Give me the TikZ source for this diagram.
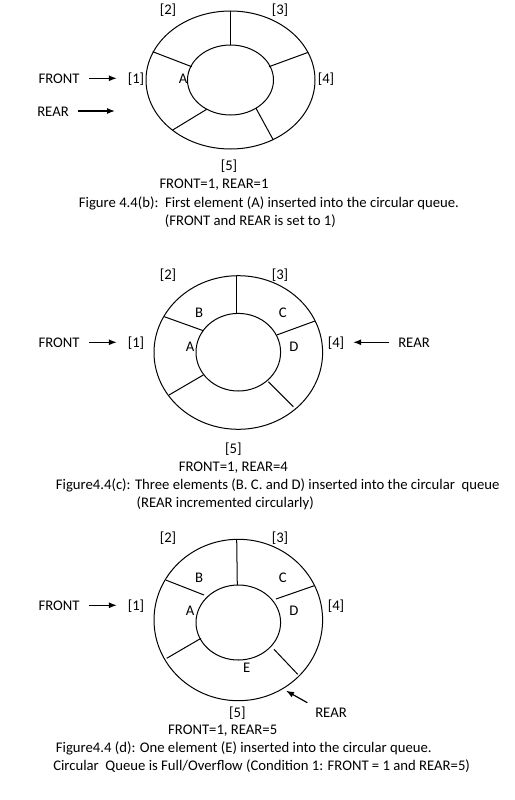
\documentclass[tikz,border=0pt]{standalone}
\usepackage{fontspec}
\setmainfont{Carlito}
\usetikzlibrary{arrows.meta}
\tikzset{
  txt/.style={inner sep=0.75pt,anchor=base,font=\fontsize{14.7}{17}\selectfont},
  figcap/.style={txt,anchor=base west},
  ptr/.style={-{Latex[length=8pt,width=6pt]},line width=1.2pt},
  ring/.style={line width=1pt}
}
\begin{document}
\begin{tikzpicture}[x=1pt,y=1pt,yscale=-1,xscale=1]
\useasboundingbox (0,0) rectangle (514,800);

%%%%%%%%%%%% Figure 4.4(b)
%Shape: Ellipse outer
\draw [ring] (230.5,80) ellipse [x radius=84.5, y radius=69];
%Shape: Ellipse inner
\draw [ring] (230.5,80) ellipse [x radius=43, y radius=35];
%Straight Lines (spokes)
\draw [ring] (230,11) -- (230,45);
\draw [ring] (152.7,51.7) -- (191.7,66.7);
\draw [ring] (308.3,52.3) -- (269,66.7);
\draw [ring] (172.7,130) -- (206.7,109.3);
\draw [ring] (273.3,140) -- (256,108.3);

% Text Node
\node [txt] (idxBone) at (136,83) {[1]};
\node [txt] (idxBtwo) at (168,15) {[2]};
\node [txt] (idxBthree) at (280,15) {[3]};
\node [txt] (idxBfour) at (326,83) {[4]};
\node [txt] (idxBfive) at (229,170) {[5]};
\node [txt] (elBA) at (183,84) {A};
\node [txt] (frontB) at (59,83) {FRONT};
\node [txt] (rearB) at (53,116) {REAR};
\coordinate (rearBend) at (115,111);
\draw [ptr, shorten <=9pt, shorten >=10pt] (frontB.east) -- (frontB.east -| idxBone.west);
\draw [ptr, shorten <=8pt] (rearB.east |- rearBend) -- (rearBend);
\node [txt] (stateB) at (214,188) {FRONT=1, REAR=1};
\node [figcap] (capBa) at (78,207) {Figure 4.4(b):\ \ First element (A) inserted into the circular queue.};
\node [figcap] (capBb) at (164,225) {(FRONT and REAR is set to 1)};

%%%%%%%%%%%% Figure 4.4(c)
%Shape: Ellipse outer
\draw [ring] (238.3,352.5) ellipse [x radius=84.3, y radius=76.8];
%Shape: Ellipse inner
\draw [ring] (238.3,352.2) ellipse [x radius=42.3, y radius=38.8];
%Straight Lines (spokes)
\draw [ring] (236.7,275.7) -- (236.7,312.6);
\draw [ring] (164.3,316.7) -- (203.3,330.7);
\draw [ring] (315,321) -- (276.7,335);
\draw [ring] (169,395) -- (203.3,375);
\draw [ring] (293.3,406.7) -- (268.3,381.7);

% Text Node
\node [txt] (idxCone) at (136,347) {[1]};
\node [txt] (idxCtwo) at (168,279) {[2]};
\node [txt] (idxCthree) at (280,279) {[3]};
\node [txt] (idxCfour) at (336,347) {[4]};
\node [txt] (idxCfive) at (233.3,453) {[5]};
\node [txt] (elCA) at (190,351) {A};
\node [txt] (elCB) at (199,317) {B};
\node [txt] (elCC) at (282.7,317) {C};
\node [txt] (elCD) at (294,351) {D};
\node [txt] (frontC) at (59,347) {FRONT};
\node [txt] (rearC) at (414,347) {REAR};
\draw [ptr, shorten <=9pt, shorten >=10pt] (frontC.east) -- (frontC.east -| idxCone.west);
\draw [ptr, shorten <=8pt, shorten >=8pt] (rearC.west) -- (rearC.west -| idxCfour.east);
\node [txt] (stateC) at (233.3,471) {FRONT=1, REAR=4};
\node [figcap] (capCa) at (55,489) {Figure4.4(c): Three elements (B. C. and D) inserted into the circular\ \ queue};
\node [figcap] (capCb) at (135.7,507) {(REAR incremented circularly)};

%%%%%%%%%%%% Figure 4.4(d)
%Shape: Ellipse outer
\draw [ring] (238.3,620) ellipse [x radius=84.3, y radius=80.7];
%Shape: Ellipse inner
\draw [ring] (238.3,622.5) ellipse [x radius=42.3, y radius=37.5];
%Straight Lines (spokes)
\draw [ring] (236.7,539.3) -- (237.3,585.2);
\draw [ring] (165.7,580) -- (204,595);
\draw [ring] (314.3,585.7) -- (276,599);
\draw [ring] (166.7,658.3) -- (201,638.3);
\draw [ring] (297.7,674.3) -- (274,649.3);

% Text Node
\node [txt] (idxDone) at (136,610) {[1]};
\node [txt] (idxDtwo) at (168,542) {[2]};
\node [txt] (idxDthree) at (280,542) {[3]};
\node [txt] (idxDfour) at (336,610) {[4]};
\node [txt] (idxDfive) at (237.3,717) {[5]};
\node [txt] (elDA) at (190,615) {A};
\node [txt] (elDB) at (199,582) {B};
\node [txt] (elDC) at (282.7,582) {C};
\node [txt] (elDD) at (294,615) {D};
\node [txt] (elDE) at (246.7,672) {E};
\node [txt] (frontD) at (59,610) {FRONT};
\node [txt] (rearD) at (331,717) {REAR};
\coordinate (rearDend) at (286,690.7);
\draw [ptr, shorten <=9pt, shorten >=10pt] (frontD.east) -- (frontD.east -| idxDone.west);
\draw [ptr, shorten <=8pt] (rearD.north west) -- (rearDend);
\node [txt] (stateD) at (222.7,734) {FRONT=1, REAR=5};
\node [figcap] (capDa) at (55,752) {Figure4.4 (d): One element (E) inserted into the circular queue.};
\node [figcap] (capDb) at (52.3,770) {Circular\ \ Queue is Full/Overflow (Condition 1: FRONT = 1 and REAR=5)};

\end{tikzpicture}
\end{document}
